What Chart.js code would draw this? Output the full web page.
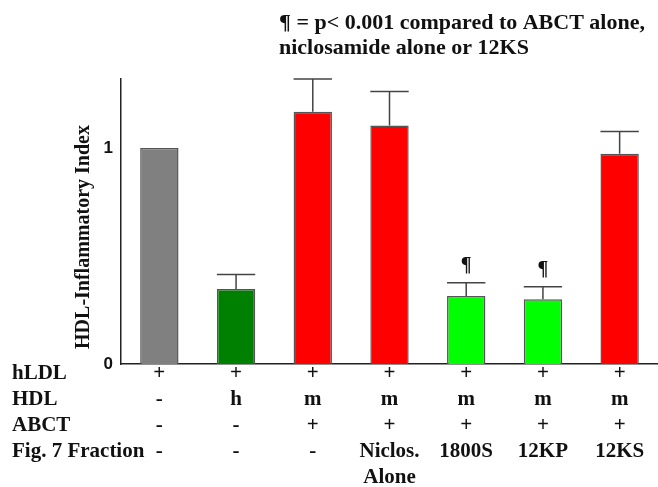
<!DOCTYPE html>
<html>
<head>
<meta charset="utf-8">
<script src="https://cdn.jsdelivr.net/npm/chart.js@4.4.0/dist/chart.umd.min.js"></script>
<style>
  html, body { margin: 0; padding: 0; background: #fff; }
  #wrap { width: 658px; height: 487px; }
</style>
</head>
<body>
<div id="wrap"><canvas id="myChart" width="658" height="487"></canvas></div>
<script>
// table rows under the bars
const rowNames = ['hLDL', 'HDL', 'ABCT', 'Fig. 7 Fraction'];
const hldlRow = ['+', '+', '+', '+', '+', '+', '+'];
const hdlRow = ['-', 'h', 'm', 'm', 'm', 'm', 'm'];
const abctRow = ['-', '-', '+', '+', '+', '+', '+'];
const fractionRow = ['-', '-', '-', ['Niclos.', 'Alone'], '1800S', '12KP', '12KS'];

// bar heights and top of error bars
const indexValues = [1.0, 0.347, 1.168, 1.105, 0.315, 0.300, 0.974];
const errorTops = [null, 0.415, 1.32, 1.262, 0.376, 0.358, 1.077];
const significant = [false, false, false, false, true, true, false];
const barColors = ['#808080', '#008000', '#ff0000', '#ff0000', '#00ff00', '#00ff00', '#ff0000'];

const yTicks = [0, 1];
const titleLines = ['\u00b6 = p< 0.001 compared to ABCT alone,', 'niclosamide alone or 12KS'];
const yTitle = 'HDL-Inflammatory Index';

const labels = hldlRow.map((v, i) => [v, hdlRow[i], abctRow[i]].concat(fractionRow[i]));

const serif = '"Liberation Serif", "Times New Roman", serif';
const LINE_H = 26;

const extras = {
  id: 'extras',
  afterDatasetsDraw(chart) {
    const ctx = chart.ctx;
    const y = chart.scales.y;
    const meta = chart.getDatasetMeta(0);
    ctx.save();
    // error bars
    ctx.strokeStyle = '#444';
    ctx.lineWidth = 1.5;
    meta.data.forEach((bar, i) => {
      if (errorTops[i] == null) return;
      const top = y.getPixelForValue(errorTops[i]);
      const half = bar.width / 2;
      ctx.beginPath();
      ctx.moveTo(bar.x, bar.y);
      ctx.lineTo(bar.x, top);
      ctx.moveTo(bar.x - half, top);
      ctx.lineTo(bar.x + half, top);
      ctx.stroke();
      if (significant[i]) {
        ctx.fillStyle = '#111';
        ctx.font = 'bold 20px ' + serif;
        ctx.textAlign = 'center';
        ctx.textBaseline = 'middle';
        ctx.fillText('\u00b6', bar.x, top - 17);
      }
    });
    ctx.restore();
  },
  afterDraw(chart) {
    const ctx = chart.ctx;
    const area = chart.chartArea;
    ctx.save();
    ctx.fillStyle = '#111';
    ctx.textBaseline = 'middle';
    // heading
    ctx.font = 'bold 22px ' + serif;
    ctx.textAlign = 'left';
    ctx.fillText(titleLines[0], 279, 23);
    ctx.fillText(titleLines[1], 279, 48);
    // row names
    ctx.font = 'bold 21px ' + serif;
    rowNames.forEach((name, i) => {
      ctx.fillText(name, 12, area.bottom + 10 + i * LINE_H);
    });
    // y title
    ctx.translate(84, 237);
    ctx.rotate(-Math.PI / 2);
    ctx.textAlign = 'center';
    ctx.font = 'bold 20px ' + serif;
    ctx.fillText(yTitle, 0, 0);
    ctx.restore();
  }
};

new Chart(
  document.getElementById('myChart'),
  {
    type: 'bar',
    data: {
      labels: labels,
      datasets: [{
        data: indexValues,
        backgroundColor: barColors,
        borderColor: '#555',
        borderWidth: 1.5,
        categoryPercentage: 1,
        barPercentage: 0.5
      }]
    },
    options: {
      responsive: false,
      animation: false,
      layout: { padding: { top: 79, left: 0, right: 0, bottom: 0 } },
      plugins: {
        legend: { display: false },
        tooltip: { enabled: false }
      },
      scales: {
        x: {
          grid: { display: false, drawTicks: false },
          border: { display: true, color: '#222', width: 1.5 },
          afterFit: scale => { scale.height = 123; },
          ticks: {
            autoSkip: false,
            maxRotation: 0,
            padding: -3,
            color: '#111',
            font: { family: serif, size: 21, weight: 'bold', lineHeight: LINE_H / 21 }
          }
        },
        y: {
          min: 0,
          max: 1.32,
          grid: { display: false, drawTicks: false },
          border: { display: true, color: '#222', width: 1.5 },
          afterFit: scale => { scale.width = 121; },
          afterBuildTicks: scale => { scale.ticks = yTicks.map(v => ({ value: v })); },
          ticks: {
            padding: 8,
            color: '#111',
            font: { family: '"Liberation Sans", Arial, sans-serif', size: 17, weight: 'bold' }
          }
        }
      }
    },
    plugins: [extras]
  }
);
</script>
</body>
</html>
